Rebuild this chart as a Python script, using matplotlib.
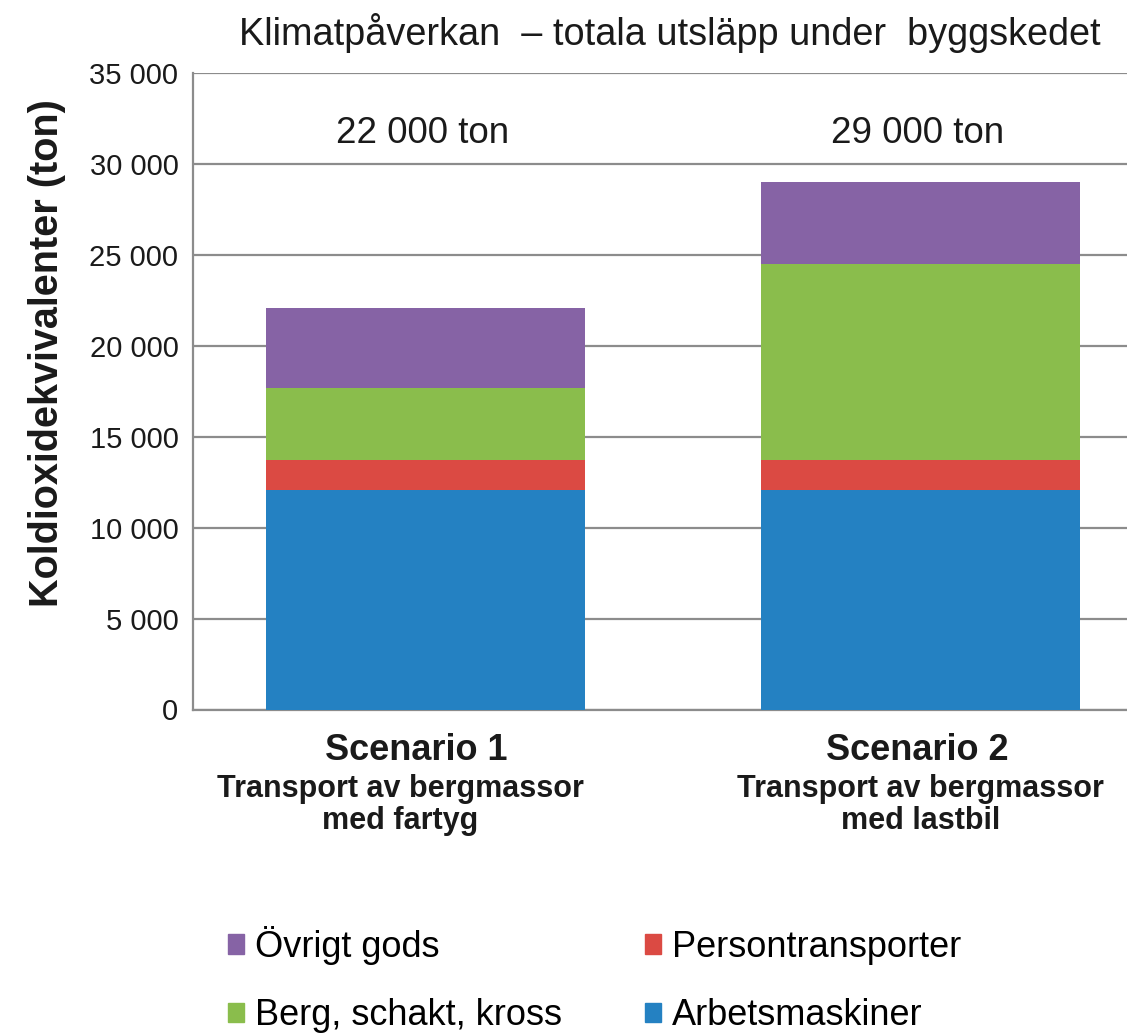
import matplotlib
matplotlib.use("Agg")
import matplotlib.pyplot as plt
from matplotlib.patches import Patch
import matplotlib.transforms as mtransforms

# ---- data ----
scenarios = ["Scenario 1", "Scenario 2"]
scenario_sub = ["Transport av bergmassor\nmed fartyg", "Transport av bergmassor\nmed lastbil"]
arbetsmaskiner = [12100, 12100]
persontransporter = [1600, 1600]
berg_schakt_kross = [4000, 10800]
ovrigt_gods = [4400, 4500]
totals_text = ["22 000 ton", "29 000 ton"]
total_label_y = [31700, 31700]
yticks = [0, 5000, 10000, 15000, 20000, 25000, 30000, 35000]
ytick_labels = ["0", "5 000", "10 000", "15 000", "20 000", "25 000", "30 000", "35 000"]

c_blue = "#2481C2"
c_red = "#DB4A43"
c_green = "#8ABD4C"
c_purple = "#8663A5"
grid_c = "#8c8c8c"
txt_c = "#1a1a1a"

plt.rcParams['font.family'] = ['Liberation Sans', 'DejaVu Sans']

W, H = 1127, 1035
fig = plt.figure(figsize=(W / 100, H / 100), dpi=100)
ax_left, ax_right_px = 193, 1127
ax_top, ax_bot = 73.3, 709.5
ax = fig.add_axes([ax_left / W, (H - ax_bot) / H, (ax_right_px - ax_left) / W, (ax_bot - ax_top) / H])

x = [0, 1]
unit = 495.0
c0 = 425.5
ax.set_xlim(-(c0 - ax_left) / unit, 1 + (ax_right_px - (c0 + unit)) / unit)
ax.set_ylim(0, 35000)
bw = 319 / unit

ax.bar(x, arbetsmaskiner, bw, color=c_blue, zorder=3)
bot = list(arbetsmaskiner)
ax.bar(x, persontransporter, bw, bottom=bot, color=c_red, zorder=3)
bot = [a + b for a, b in zip(bot, persontransporter)]
ax.bar(x, berg_schakt_kross, bw, bottom=bot, color=c_green, zorder=3)
bot = [a + b for a, b in zip(bot, berg_schakt_kross)]
ax.bar(x, ovrigt_gods, bw, bottom=bot, color=c_purple, zorder=3)

ax.set_yticks(yticks)
ax.set_yticklabels(ytick_labels, fontsize=21, color=txt_c)
ax.tick_params(axis='y', length=0, pad=10.5)
ax.tick_params(axis='x', length=0, labelbottom=False)
ax.yaxis.grid(True, color=grid_c, linewidth=1.6, zorder=0)
ax.set_axisbelow(True)
for s in ["top", "right"]:
    ax.spines[s].set_visible(False)
for s in ["left", "bottom"]:
    ax.spines[s].set_color(grid_c)
    ax.spines[s].set_linewidth(1.6)

fig.text(47 / W, 1 - 353 / H, "Koldioxidekvivalenter (ton)", rotation=90, ha="center", va="center",
         fontsize=28.5, fontweight="bold", color=txt_c)

for xi, t, ty in zip(x, totals_text, total_label_y):
    ax.text(xi - 0.005, ty, t, ha="center", va="center", fontsize=26.5, color=txt_c)

trans = mtransforms.blended_transform_factory(ax.transData, fig.transFigure)
head_dx = [-9 / unit, -3 / unit]
sub_dx = [-25 / unit, 0.0]
for xi, s, sub, hd, sd in zip(x, scenarios, scenario_sub, head_dx, sub_dx):
    ax.text(xi + hd, 1 - 751 / H, s, transform=trans, ha="center", va="center",
            fontsize=26, fontweight="bold", color=txt_c)
    ax.text(xi + sd, 1 - 805 / H, sub, transform=trans, ha="center", va="center",
            fontsize=22, fontweight="bold", color=txt_c, linespacing=1.08)

fig.text(670 / W, 1 - 33 / H, "Klimatpåverkan  – totala utsläpp under  byggskedet", ha="center", va="center",
         fontsize=27.3, color=txt_c)

handles = [Patch(color=c_purple), Patch(color=c_green), Patch(color=c_red), Patch(color=c_blue)]
labels = ["Övrigt gods", "Berg, schakt, kross", "Persontransporter", "Arbetsmaskiner"]
fig.legend(handles, labels, ncol=2, loc="upper left", bbox_to_anchor=(228 / W, 1 - 926 / H),
           frameon=False, handlelength=0.45, handleheight=0.45, handletextpad=0.3,
           columnspacing=2.3, labelspacing=0.92, borderpad=0, borderaxespad=0,
           prop={'size': 26})

fig.savefig("out.png", dpi=100)
